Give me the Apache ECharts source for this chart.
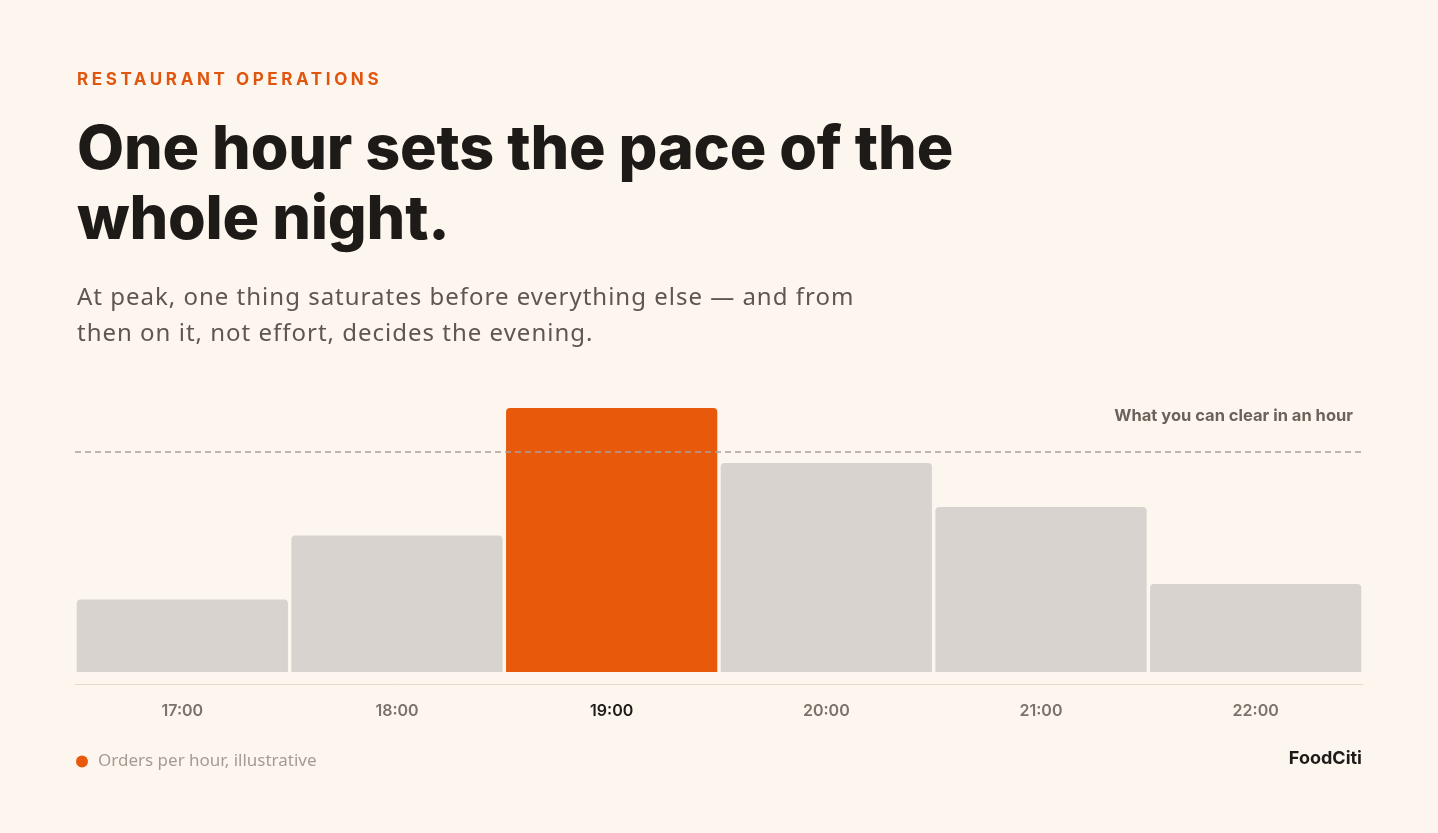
<!DOCTYPE html>
<html>
<head>
<meta charset="utf-8">
<script src="https://cdn.jsdelivr.net/npm/echarts@6/dist/echarts.min.js"></script>
<style>
  html, body { margin: 0; padding: 0; background: #FDF6EE; }
  #wrap { position: relative; width: 1438px; height: 833px; overflow: hidden; background: #FDF6EE; }
  #chart { position: absolute; left: 0; top: 0; width: 1438px; height: 833px; }
  .txt { position: absolute; left: 77px; pointer-events: none; z-index: 2; white-space: nowrap; }
  #kicker { top: 69px; font-family: Inter, sans-serif; font-weight: 700; font-size: 17px; letter-spacing: 3.6px; color: #E0560F; }
  #title { top: 112px; font-family: Inter, sans-serif; font-weight: 800; font-size: 61px; line-height: 70px; letter-spacing: -0.2px; color: #1E1A17; }
  #sub { top: 278px; font-family: "Noto Sans", sans-serif; font-weight: 400; font-size: 24px; line-height: 36px; letter-spacing: 1px; color: #5E5650; }
</style>
</head>
<body>
<div id="wrap">
  <div id="chart"></div>
  <div class="txt" id="kicker">RESTAURANT OPERATIONS</div>
  <div class="txt" id="title">One hour sets the pace of the<br>whole night.</div>
  <div class="txt" id="sub">At peak, one thing saturates before everything else — and from<br>then on it, not effort, decides the evening.</div>
</div>
<script>
const hours = ['17:00', '18:00', '19:00', '20:00', '21:00', '22:00'];
const orders = [33, 62, 120, 95, 75, 40];
const capacity = 100;
const peakIndex = 2;
const seriesName = 'Orders per hour, illustrative';
const capacityLabel = 'What you can clear in an hour';

const ORANGE = '#E8590C';
const GREY = '#D8D3CF';

const chart = echarts.init(document.getElementById('chart'));
chart.setOption({
  animation: false,
  backgroundColor: 'transparent',
  grid: { left: 75, right: 75, top: 408, height: 264, containLabel: false },
  xAxis: {
    type: 'category',
    data: hours,
    offset: 12,
    axisLine: { show: true, onZero: false, lineStyle: { color: '#E6DBCF', width: 1 } },
    axisTick: { show: false },
    axisLabel: {
      margin: 19,
      fontFamily: 'Inter, sans-serif',
      fontWeight: 600,
      fontSize: 16,
      color: function (value, index) { return index === peakIndex ? '#1E1A17' : '#7B726B'; }
    }
  },
  yAxis: {
    type: 'value',
    min: 0,
    max: 120,
    show: false,
    splitLine: { show: false }
  },
  legend: {
    left: 76,
    top: 753,
    padding: 0,
    icon: 'circle',
    itemWidth: 12,
    itemHeight: 12,
    textStyle: { color: '#A39B94', fontSize: 17, fontFamily: '"Noto Sans", sans-serif', padding: [0, 0, 0, 5] },
    data: [seriesName]
  },
  graphic: [
    {
      type: 'text',
      right: 76,
      top: 750,
      style: { text: 'FoodCiti', font: '700 18px Inter, sans-serif', fill: '#1E1A17' }
    }
  ],
  series: [
    {
      name: seriesName,
      type: 'bar',
      barCategoryGap: '1.6%',
      itemStyle: { color: ORANGE, borderRadius: [4, 4, 0, 0] },
      data: orders.map(function (v, i) {
        return { value: v, itemStyle: { color: i === peakIndex ? ORANGE : GREY } };
      }),
      markLine: {
        silent: true,
        symbol: 'none',
        lineStyle: { color: '#A8A09A', type: [6, 4], width: 1.5 },
        label: {
          show: true,
          position: 'insideEndTop',
          distance: [10, 27],
          formatter: capacityLabel,
          color: '#6B625B',
          fontFamily: 'Inter, sans-serif',
          fontWeight: 700,
          fontSize: 16.5
        },
        data: [{ yAxis: capacity }]
      }
    }
  ]
});
</script>
</body>
</html>
